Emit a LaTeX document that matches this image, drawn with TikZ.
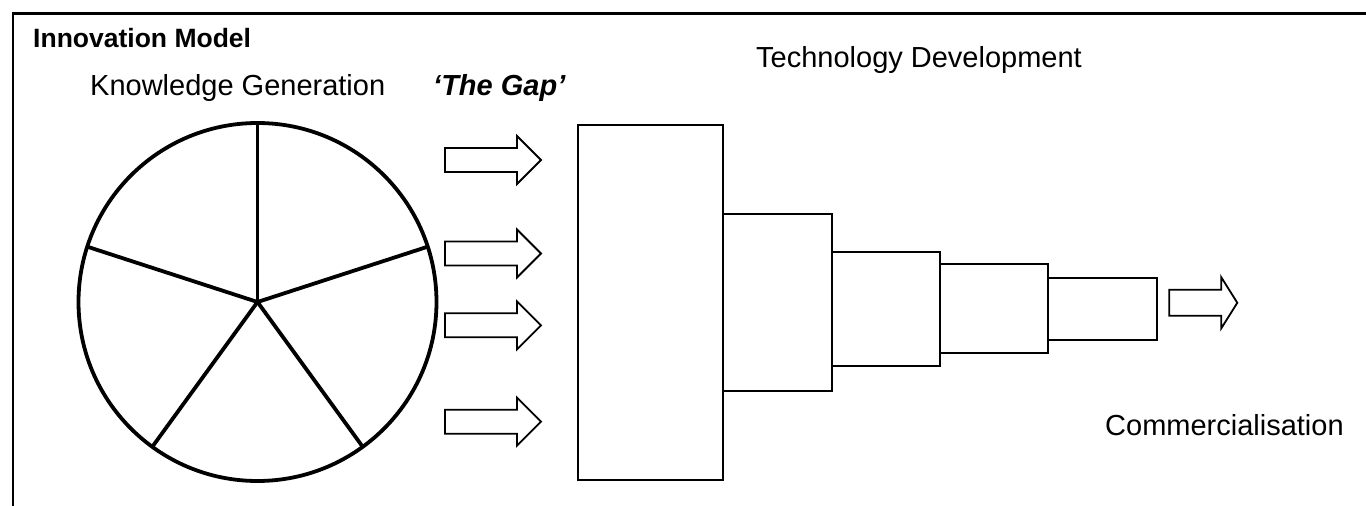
\documentclass[tikz,border=0pt]{standalone}
\usepackage{fontspec}
\setmainfont{Liberation Sans}
\tikzset{
  frameline/.style={line width=2.2pt, line cap=rect},
  label/.style={inner sep=0pt, anchor=base west, font=\fontsize{29}{34}\selectfont},
  title/.style={inner sep=0pt, anchor=base west, font=\fontsize{26.5}{32}\selectfont\bfseries},
  wheel/.style={line width=3.8pt},
  stagebox/.style={draw, line width=2pt, inner sep=0pt, fill=white},
  arrowline/.style={draw, line width=1.8pt, line join=miter, fill=white},
  pics/gaparrow/.style={code={
    \draw[arrowline] (-48,-12) -- (24,-12) -- (24,-24) -- (48,0) -- (24,24) -- (24,12) -- (-48,12) -- cycle;
  }},
  pics/outarrow/.style={code={
    \draw[arrowline] (-34,-13) -- (18,-13) -- (18,-25.5) -- (34,0) -- (18,25.5) -- (18,13) -- (-34,13) -- cycle;
  }}
}
\begin{document}
\begin{tikzpicture}[x=1pt, y=-1pt]
\useasboundingbox (0,0) rectangle (1366,506);

% open frame: top and left edges only
\coordinate (frameTL) at (13,13.5);
\coordinate (frameTR) at (1370,13.5);
\coordinate (frameBL) at (13,510);
\draw[frameline] (frameTR) -- (frameTL) -- (frameBL);

% captions
\node[title] (title) at (33,47) {Innovation Model};
\node[label] (knowledge) at (90,95) {Knowledge Generation};
\node[label, font=\fontsize{29}{34}\selectfont\bfseries\itshape] (gap) at (433,95) {‘The Gap’};
\node[label] (techdev) at (756,67) {Technology Development};
\node[label] (commerce) at (1105,435) {Commercialisation};

% knowledge wheel with five segments
\coordinate (hub) at (257.5,302);
\draw[wheel] (hub) circle[radius=179];
\foreach \a [count=\i] in {-90,-18,54,126,198}
  \draw[wheel] (hub) -- ++(\a:179) coordinate (spoke\i);

% arrows across the gap
\pic at (493,160) {gaparrow};
\pic at (493,253.5) {gaparrow};
\pic at (493,325.3) {gaparrow};
\pic at (493,421.7) {gaparrow};

% technology development stages
\node[stagebox, minimum width=145pt, minimum height=355pt] (s1) at (650.5,302.5) {};
\node[stagebox, minimum width=108.5pt, minimum height=177pt] (s2) at (777.25,302.5) {};
\node[stagebox, minimum width=108.5pt, minimum height=114pt] (s3) at (885.75,309) {};
\node[stagebox, minimum width=108.3pt, minimum height=89.3pt] (s4) at (994.15,308.65) {};
\node[stagebox, minimum width=108.4pt, minimum height=62.5pt] (s5) at (1102.5,308.75) {};

% output arrow
\pic at (1203.3,302.8) {outarrow};
\end{tikzpicture}
\end{document}
